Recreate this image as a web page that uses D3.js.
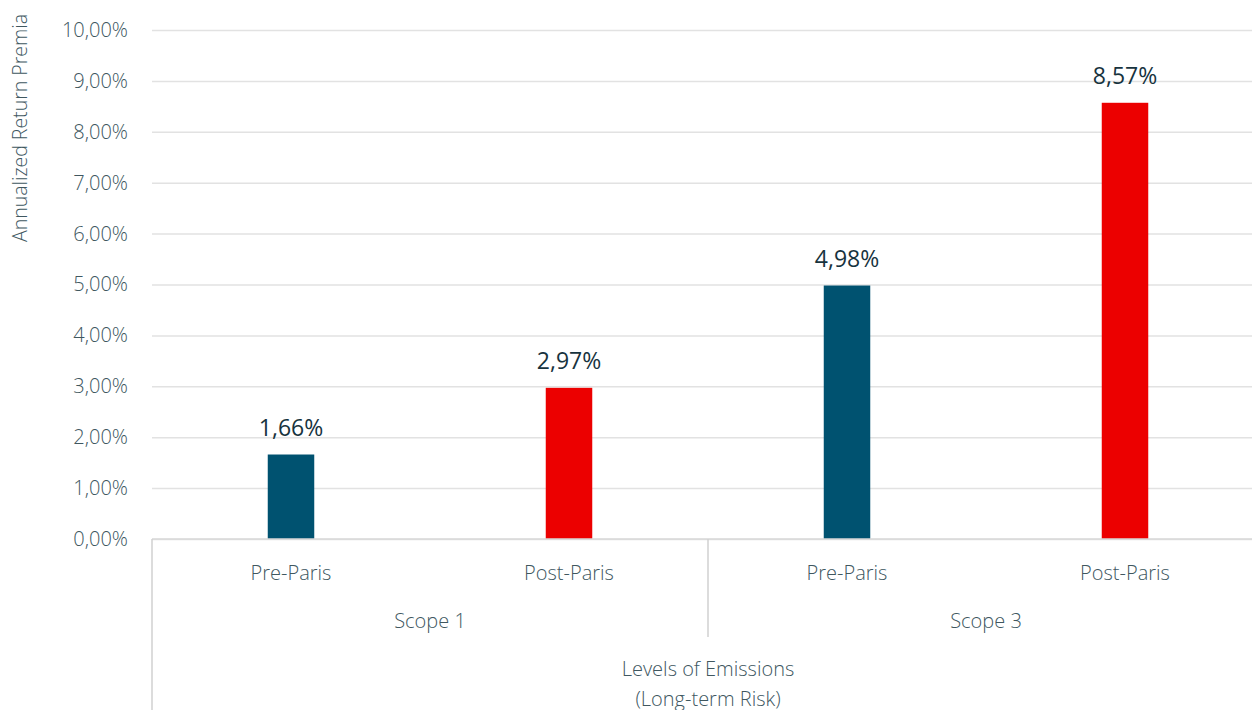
<!DOCTYPE html>
<html>
<head>
<meta charset="utf-8">
<script src="https://cdn.jsdelivr.net/npm/d3@7"></script>
<style>
  body { margin: 0; background: #fff; }
  text { font-family: "Open Sans", "Noto Sans", sans-serif; font-weight: 300; }
</style>
</head>
<body>
<div id="chart"></div>
<script>
// data
const periods = ["Pre-Paris", "Post-Paris", "Pre-Paris", "Post-Paris"];
const scopes = ["Scope 1", "Scope 3"];
const values = [1.66, 2.97, 4.98, 8.57];
const barColors = ["#005270", "#ec0000", "#005270", "#ec0000"];
const yTicks = [0, 1, 2, 3, 4, 5, 6, 7, 8, 9, 10];

const width = 1252, height = 710;
const plotLeft = 152, plotRight = 1264, plotTop = 30, plotBottom = 539;
const textColor = "#40575f";

const svg = d3.select("#chart").append("svg")
    .attr("width", width)
    .attr("height", height);

const x = d3.scaleBand()
    .domain(d3.range(values.length))
    .range([plotLeft, plotRight]);

const y = d3.scaleLinear()
    .domain([0, 10])
    .range([plotBottom, plotTop]);

const fmt = v => v.toFixed(2).replace(".", ",") + "%";

// gridlines + y axis
const yAxis = svg.append("g")
    .attr("transform", `translate(${plotLeft},0)`)
    .call(d3.axisLeft(y).tickValues(yTicks).tickSize(-(plotRight - plotLeft)).tickPadding(24).tickFormat(fmt));
yAxis.select(".domain").remove();
yAxis.selectAll(".tick line").attr("stroke", "#e2e2e2").attr("stroke-width", 1.5);
yAxis.selectAll(".tick text")
    .attr("fill", textColor)
    .style("font-size", "20px");

// axis title
svg.append("text")
    .attr("transform", "translate(27,128) rotate(-90)")
    .attr("text-anchor", "middle")
    .attr("fill", textColor)
    .style("font-size", "19.5px")
    .text("Annualized Return Premia");

// bars
const bw = 46.5;
svg.selectAll(".bar")
    .data(values)
    .join("rect")
    .attr("class", "bar")
    .attr("x", (d, i) => x(i) + x.bandwidth() / 2 - bw / 2)
    .attr("y", d => y(d))
    .attr("width", bw)
    .attr("height", d => y(0) - y(d))
    .attr("fill", (d, i) => barColors[i]);

// value labels
svg.selectAll(".val")
    .data(values)
    .join("text")
    .attr("class", "val")
    .attr("x", (d, i) => x(i) + x.bandwidth() / 2)
    .attr("y", d => y(d) - 19)
    .attr("text-anchor", "middle")
    .attr("fill", "#17333e")
    .style("font-size", "23px")
    .style("font-weight", 400)
    .text(fmt);

// baseline
svg.append("line")
    .attr("x1", plotLeft).attr("x2", plotRight)
    .attr("y1", plotBottom).attr("y2", plotBottom)
    .attr("stroke", "#d9d9d9").attr("stroke-width", 1.5);

// category labels
svg.selectAll(".cat")
    .data(periods)
    .join("text")
    .attr("class", "cat")
    .attr("x", (d, i) => x(i) + x.bandwidth() / 2)
    .attr("y", 580)
    .attr("text-anchor", "middle")
    .attr("fill", textColor)
    .style("font-size", "20px")
    .text(d => d);

// group labels and separators
scopes.forEach((s, g) => {
    const gx0 = x(g * 2), gx1 = x(g * 2 + 1) + x.bandwidth();
    svg.append("text")
        .attr("x", (gx0 + gx1) / 2)
        .attr("y", 628)
        .attr("text-anchor", "middle")
        .attr("fill", textColor)
        .style("font-size", "20px")
        .text(s);
    if (g > 0) {
        svg.append("line")
            .attr("x1", gx0).attr("x2", gx0)
            .attr("y1", plotBottom).attr("y2", 637)
            .attr("stroke", "#d0d0d0").attr("stroke-width", 1.5);
    }
});
svg.append("line")
    .attr("x1", plotLeft).attr("x2", plotLeft)
    .attr("y1", plotBottom).attr("y2", height)
    .attr("stroke", "#d0d0d0").attr("stroke-width", 1.5);

// x axis title (cut at the bottom edge, as in the original)
svg.append("text")
    .attr("x", (plotLeft + plotRight) / 2)
    .attr("y", 676)
    .attr("text-anchor", "middle")
    .attr("fill", textColor)
    .style("font-size", "20px")
    .text("Levels of Emissions");
svg.append("text")
    .attr("x", (plotLeft + plotRight) / 2)
    .attr("y", 706)
    .attr("text-anchor", "middle")
    .attr("fill", textColor)
    .style("font-size", "20px")
    .text("(Long-term Risk)");
</script>
</body>
</html>
